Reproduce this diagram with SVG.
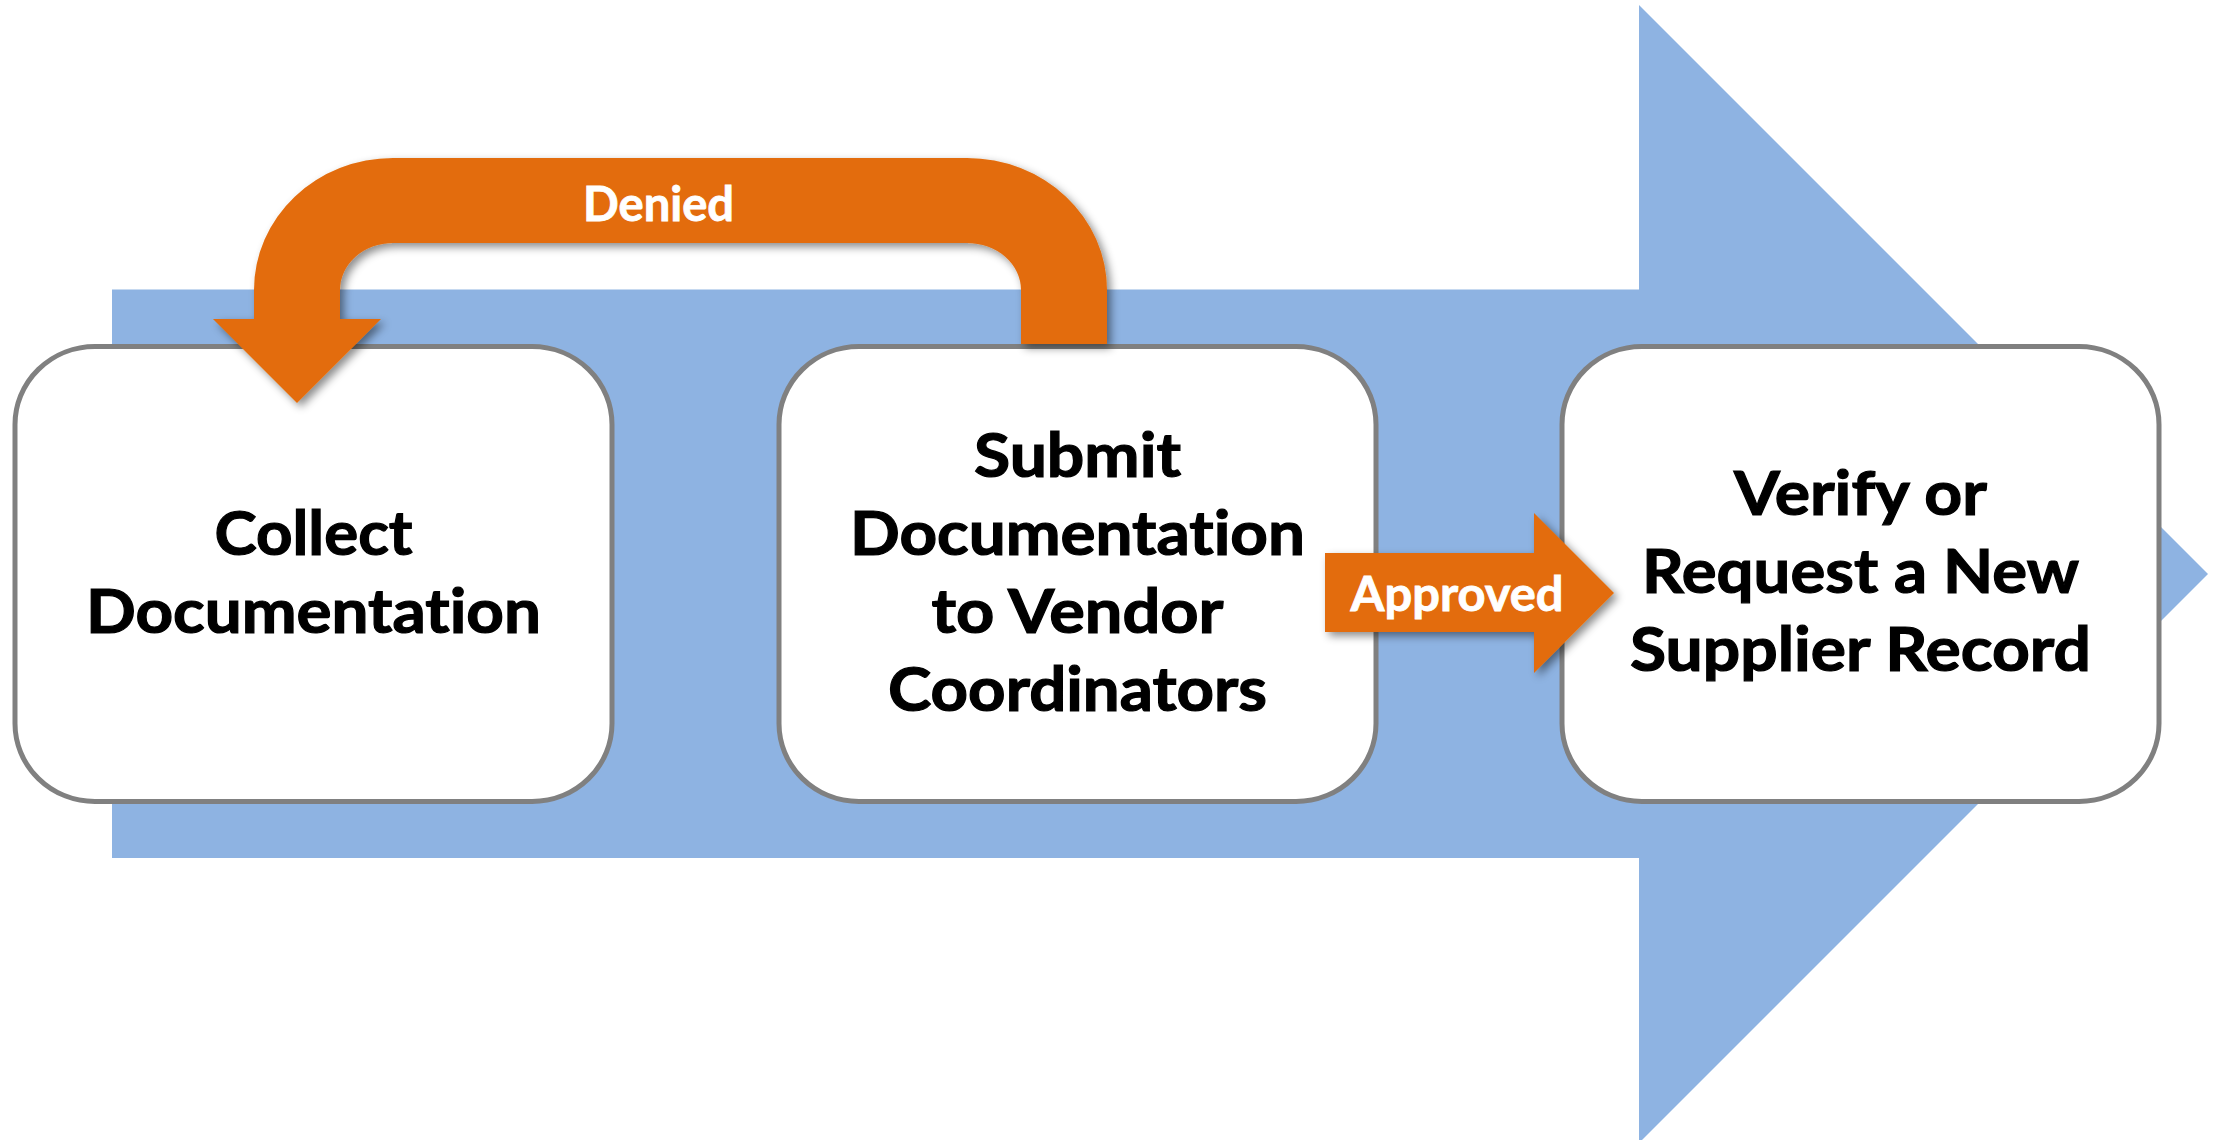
<svg xmlns="http://www.w3.org/2000/svg" width="2219" height="1140" viewBox="0 0 2219 1140">
  <defs>
    <filter id="soft-shadow" x="-10%" y="-10%" width="130%" height="130%">
      <feDropShadow dx="4" dy="4" stdDeviation="4" flood-color="#000" flood-opacity="0.45"/>
    </filter>
  </defs>
  <style>
    .flow { fill: #8EB3E2; }
    .step { fill: #FFFFFF; stroke: #808080; stroke-width: 5; }
    .step-text { font-family: Lato, "Liberation Sans", sans-serif; font-weight: 700; font-size: 62px; fill: #000000; stroke: #000000; stroke-width: 1.2; text-anchor: middle; font-variant-ligatures: none; font-feature-settings: "liga" 0, "clig" 0, "dlig" 0; }
    .link { fill: #E36C0A; filter: url(#soft-shadow); }
    .link-text { font-family: Lato, "Liberation Sans", sans-serif; font-weight: 700; font-size: 47px; fill: #FFFFFF; stroke: #FFFFFF; stroke-width: 0.8; text-anchor: middle; font-variant-ligatures: none; font-feature-settings: "liga" 0, "clig" 0, "dlig" 0; }
  </style>

  <!-- big process arrow in the background -->
  <polygon class="flow" points="112,289.5 1639,289.5 1639,5 2208,574 1639,1143 1639,858 112,858"/>

  <!-- process steps -->
  <g id="node-collect">
    <rect class="step" x="15" y="346.5" width="597" height="455" rx="80" ry="78"/>
    <text class="step-text" x="313.5" y="555" textLength="198" lengthAdjust="spacingAndGlyphs">Collect</text>
    <text class="step-text" x="313.5" y="633" textLength="455" lengthAdjust="spacingAndGlyphs">Documentation</text>
  </g>

  <g id="node-submit">
    <rect class="step" x="779" y="346.5" width="597" height="455" rx="80" ry="78"/>
    <text class="step-text" x="1077.5" y="477" textLength="207" lengthAdjust="spacingAndGlyphs">Submit</text>
    <text class="step-text" x="1077.5" y="555" textLength="455" lengthAdjust="spacingAndGlyphs">Documentation</text>
    <text class="step-text" x="1077.5" y="633" textLength="292" lengthAdjust="spacingAndGlyphs">to Vendor</text>
    <text class="step-text" x="1077.5" y="711" textLength="379" lengthAdjust="spacingAndGlyphs">Coordinators</text>
  </g>

  <g id="node-verify">
    <rect class="step" x="1562" y="346.5" width="597" height="455" rx="80" ry="78"/>
    <text class="step-text" x="1860.5" y="515" textLength="253" lengthAdjust="spacingAndGlyphs">Verify or</text>
    <text class="step-text" x="1860.5" y="593" textLength="437" lengthAdjust="spacingAndGlyphs">Request a New</text>
    <text class="step-text" x="1860.5" y="671" textLength="461" lengthAdjust="spacingAndGlyphs">Supplier Record</text>
  </g>

  <!-- connectors -->
  <g id="connectors">
    <g id="edge-denied">
      <path class="link" d="M 213,319 L 254,319 L 254,290 A 139,132 0 0 1 393,158 L 967,158 A 140,132 0 0 1 1107,290 L 1107,344 L 1021,344 L 1021,290 A 54,47 0 0 0 967,243 L 393,243 A 53,47 0 0 0 340,290 L 340,319 L 381,319 L 297,403 Z"/>
      <text class="link-text" x="658.5" y="221" textLength="151" lengthAdjust="spacingAndGlyphs">Denied</text>
    </g>
    <g id="edge-approved">
      <polygon class="link" points="1325,553 1534,553 1534,513 1614,593 1534,673 1534,632 1325,632"/>
      <text class="link-text" x="1457" y="611" textLength="213" lengthAdjust="spacingAndGlyphs">Approved</text>
    </g>
  </g>
</svg>
